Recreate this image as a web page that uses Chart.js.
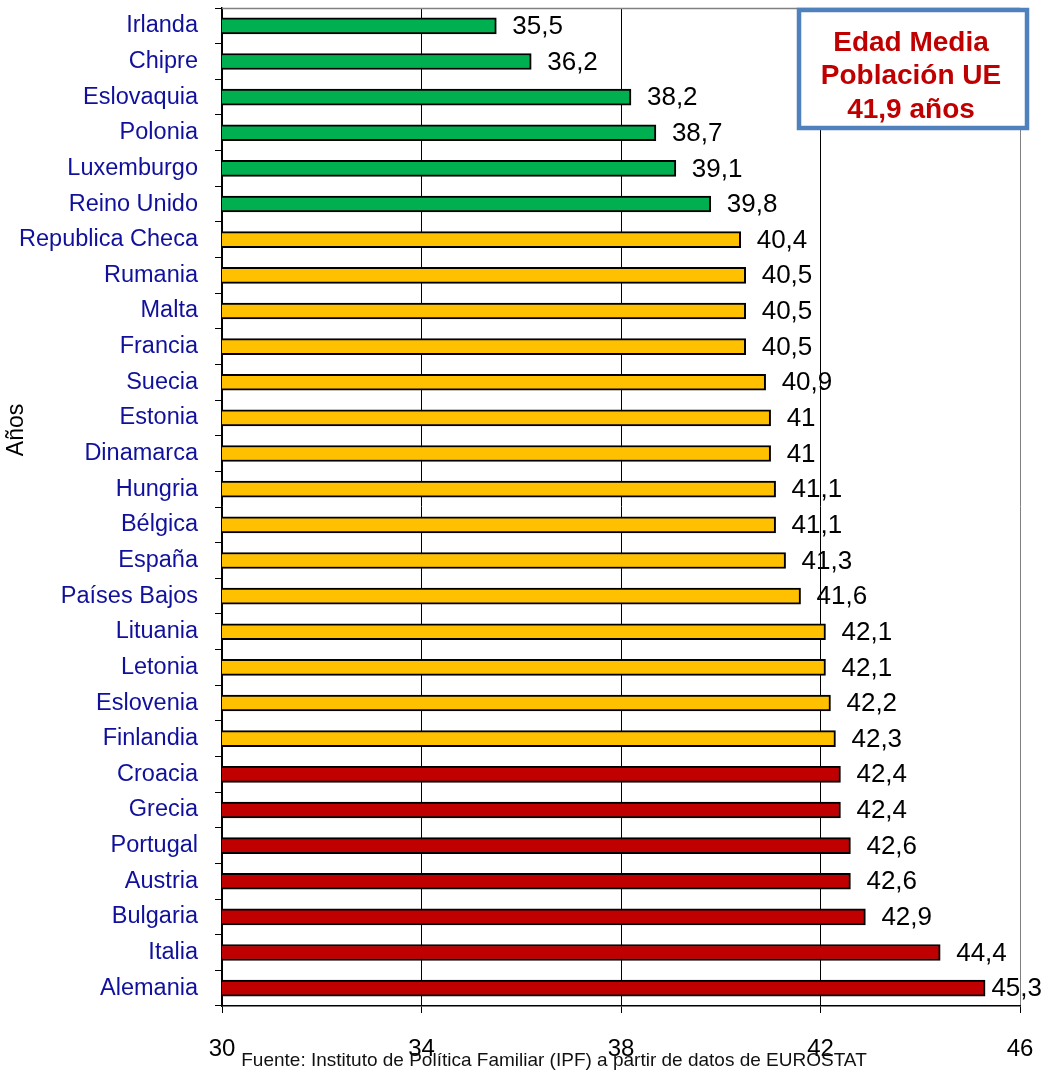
<!DOCTYPE html>
<html>
<head>
<meta charset="utf-8">
<script src="https://cdn.jsdelivr.net/npm/chart.js@4.4.1/dist/chart.umd.min.js"></script>
<style>
  html, body { margin: 0; padding: 0; background: #fff; }
  #contenedor { width: 1044px; height: 1071px; }
</style>
</head>
<body>
<div id="contenedor"><canvas id="grafico"></canvas></div>
<script>
const paises = [
  "Irlanda", "Chipre", "Eslovaquia", "Polonia", "Luxemburgo", "Reino Unido",
  "Republica Checa", "Rumania", "Malta", "Francia", "Suecia", "Estonia",
  "Dinamarca", "Hungria", "Bélgica", "España", "Países Bajos", "Lituania",
  "Letonia", "Eslovenia", "Finlandia", "Croacia", "Grecia", "Portugal",
  "Austria", "Bulgaria", "Italia", "Alemania"
];
const edadMedia = [
  35.5, 36.2, 38.2, 38.7, 39.1, 39.8,
  40.4, 40.5, 40.5, 40.5, 40.9, 41,
  41, 41.1, 41.1, 41.3, 41.6, 42.1,
  42.1, 42.2, 42.3, 42.4, 42.4, 42.6,
  42.6, 42.9, 44.4, 45.3
];
const ticksX = [30, 34, 38, 42, 46];
const textoRecuadro = ["Edad Media", "Población UE", "41,9 años"];
const tituloEje = "Años";
const fuente = "Fuente: Instituto de Política Familiar (IPF) a partir de datos de EUROSTAT";

const FUENTE = "'Liberation Sans', Arial, sans-serif";

// verde por debajo de 40, amarillo hasta la media, rojo por encima
function colorBarra(v) {
  if (v < 40) return "#00b050";
  if (v <= 42.3) return "#ffc000";
  return "#c00000";
}

function formatear(v) {
  return String(v).replace(".", ",");
}

const pluginExtras = {
  id: "extras",
  afterDatasetsDraw(chart) {
    const { ctx, chartArea } = chart;
    const meta = chart.getDatasetMeta(0);
    ctx.save();
    // borde superior gris
    ctx.strokeStyle = "#808080";
    ctx.lineWidth = 1.5;
    ctx.beginPath();
    ctx.moveTo(chartArea.left, chartArea.top + 0.5);
    ctx.lineTo(chartArea.right, chartArea.top + 0.5);
    ctx.stroke();

    // etiquetas de valores
    ctx.font = "26px " + FUENTE;
    ctx.fillStyle = "#000";
    ctx.textBaseline = "middle";
    ctx.textAlign = "left";
    meta.data.forEach((bar, i) => {
      const txt = formatear(edadMedia[i]);
      const w = ctx.measureText(txt).width;
      const x = Math.min(bar.x + 16, chart.width - w - 2);
      ctx.fillText(txt, x, bar.y + 1);
    });
    ctx.restore();
  },
  afterDraw(chart) {
    const { ctx } = chart;
    ctx.save();
    // recuadro de la media UE
    const bx = 799, by = 10, bw = 228, bh = 118;
    ctx.fillStyle = "#fff";
    ctx.fillRect(bx, by, bw, bh);
    ctx.strokeStyle = "#4f81bd";
    ctx.lineWidth = 4.5;
    ctx.strokeRect(bx, by, bw, bh);
    ctx.fillStyle = "#c00000";
    ctx.font = "bold 28px " + FUENTE;
    ctx.textAlign = "center";
    ctx.textBaseline = "middle";
    textoRecuadro.forEach((linea, i) => {
      ctx.fillText(linea, bx + bw / 2 - 2, by + 33 + i * 33.5);
    });

    // titulo del eje
    ctx.fillStyle = "#000";
    ctx.font = "23px " + FUENTE;
    ctx.translate(17, 430);
    ctx.rotate(-Math.PI / 2);
    ctx.fillText(tituloEje, 0, 0);
    ctx.restore();

    // fuente
    ctx.save();
    ctx.fillStyle = "#111";
    ctx.font = "19px " + FUENTE;
    ctx.textAlign = "center";
    ctx.textBaseline = "middle";
    ctx.fillText(fuente, 554, 1061);
    ctx.restore();
  }
};

new Chart(document.getElementById("grafico"), {
  type: "bar",
  data: {
    labels: paises,
    datasets: [{
      data: edadMedia,
      backgroundColor: edadMedia.map(colorBarra),
      borderColor: "#000",
      borderWidth: 2,
      borderSkipped: false,
      barThickness: 16
    }]
  },
  options: {
    indexAxis: "y",
    responsive: true,
    maintainAspectRatio: false,
    animation: false,
    layout: { padding: { top: 8, right: 24, left: 0, bottom: 0 } },
    scales: {
      x: {
        min: 30,
        max: 46,
        afterBuildTicks: (scale) => { scale.ticks = ticksX.map((v) => ({ value: v })); },
        afterFit: (scale) => {
          scale.height = 65;
          scale.paddingLeft = 0;
          scale.paddingRight = 0;
        },
        grid: {
          color: (c) => (c.tick && c.tick.value === 46 ? "#808080" : "#000"),
          lineWidth: 1,
          tickLength: 7,
          tickColor: "#000"
        },
        border: { display: true, color: "#000", width: 1.5 },
        ticks: {
          color: "#000",
          font: { size: 24, family: FUENTE },
          padding: 22,
          maxRotation: 0
        }
      },
      y: {
        afterFit: (scale) => {
          scale.width = 222;
          scale.paddingTop = 0;
          scale.paddingBottom = 0;
        },
        grid: {
          drawOnChartArea: false,
          drawTicks: true,
          tickLength: 7,
          color: "#000",
          offset: true
        },
        border: { display: true, color: "#000", width: 1.5 },
        ticks: {
          color: "#10109c",
          font: { size: 23.5, family: FUENTE },
          padding: 17
        }
      }
    },
    plugins: {
      legend: { display: false },
      tooltip: { enabled: false }
    }
  },
  plugins: [pluginExtras]
});
</script>
</body>
</html>
